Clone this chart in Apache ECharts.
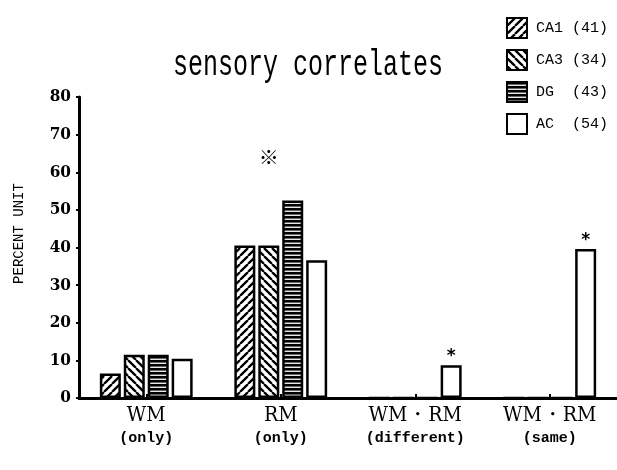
<!DOCTYPE html>
<html>
<head>
<meta charset="utf-8">
<script src="https://cdn.jsdelivr.net/npm/echarts@6/dist/echarts.min.js"></script>
<style>
html,body{margin:0;padding:0;background:#fff;}
#chart{width:617px;height:470px;}
</style>
</head>
<body>
<div id="chart"></div>
<script>
const categories = ['WM\n(only)', 'RM\n(only)', 'WM・RM\n(different)', 'WM・RM\n(same)'];
const seriesNames = ['CA1 (41)', 'CA3 (34)', 'DG  (43)', 'AC  (54)'];
const ca1 = [6.5, 40.5, 0, 0];
const ca3 = [11.5, 40.5, 0, 0];
const dg = [11.5, 52.5, 0, 0];
const ac = [10.4, 36.6, 8.7, 39.6];
const acMarks = ['', '', '*', '*'];
const yTicks = [0, 10, 20, 30, 40, 50, 60, 70, 80];
const titleText = 'sensory correlates';
const yName = 'PERCENT UNIT';
const noteMark = { category: 'RM\n(only)', value: 64, text: '※' };

function hatch(dir) {
  const s = 8;
  const c = document.createElement('canvas');
  c.width = s; c.height = s;
  const g = c.getContext('2d');
  g.fillStyle = '#fff'; g.fillRect(0, 0, s, s);
  g.strokeStyle = '#000'; g.lineWidth = 2.3;
  g.beginPath();
  for (const o of [-s, 0, s]) {
    if (dir === '/') { g.moveTo(o, s); g.lineTo(o + s, 0); }
    else { g.moveTo(o, 0); g.lineTo(o + s, s); }
  }
  g.stroke();
  return { image: c, repeat: 'repeat' };
}
function hlines() {
  const c = document.createElement('canvas');
  c.width = 6; c.height = 4;
  const g = c.getContext('2d');
  g.fillStyle = '#000'; g.fillRect(0, 0, 6, 4);
  g.fillStyle = '#fff'; g.fillRect(0, 2.6, 6, 1.3);
  return { image: c, repeat: 'repeat' };
}

const fills = [hatch('/'), hatch('\\'), hlines(), '#fff'];
const dataSets = [ca1, ca3, dg, ac];

const chart = echarts.init(document.getElementById('chart'));
const series = dataSets.map((d, i) => ({
  name: seriesNames[i],
  type: 'bar',
  barWidth: 21,
  barGap: '14%',
  data: d.map((v, j) => {
    const item = { value: v };
    if (i === 3 && acMarks[j]) {
      item.label = { show: true, position: 'top', distance: 0, formatter: acMarks[j],
        fontFamily: 'DejaVu Sans', fontWeight: 'bold', fontSize: 17, color: '#000' };
    }
    return item;
  }),
  itemStyle: { color: fills[i], borderColor: '#000', borderWidth: 2.5 },
  emphasis: { disabled: true },
  markPoint: i === 1 ? {
    symbol: 'circle', symbolSize: 1, itemStyle: { color: 'rgba(0,0,0,0)' },
    label: { show: true, position: 'inside', formatter: noteMark.text, fontSize: 20, color: '#000', fontFamily: 'Noto Sans CJK JP' },
    data: [{ coord: [noteMark.category, noteMark.value] }]
  } : undefined
}));

chart.setOption({
  animation: false,
  backgroundColor: '#fff',
  graphic: [{
    type: 'text', x: 308, y: 65, scaleY: 1.45, originX: 0, originY: 0,
    style: { text: titleText, font: '25px "Liberation Mono"', fill: '#000', align: 'center', verticalAlign: 'middle' }
  }],
  legend: {
    orient: 'vertical', right: 4, top: 12,
    itemWidth: 20, itemHeight: 20, itemGap: 10,
    textStyle: { fontFamily: 'Liberation Mono', fontSize: 15, color: '#000', padding: [0, 0, 0, 4] },
    data: seriesNames.map((n) => ({ name: n, icon: 'rect' })),
    selectedMode: false
  },
  grid: { left: 79, right: 0, top: 97, bottom: 72, containLabel: false, outerBoundsMode: 'none' },
  xAxis: {
    type: 'category', data: categories,
    axisLine: { lineStyle: { color: '#000', width: 3 } },
    axisTick: { show: true, alignWithLabel: true, inside: true, length: 4, lineStyle: { color: '#000', width: 2 } },
    axisLabel: {
      margin: 5, interval: 0,
      formatter: v => { const p = v.split('\n'); return '{a|' + p[0] + '}\n{b|' + p[1] + '}'; },
      rich: {
        a: { fontFamily: 'DejaVu Serif Condensed', fontSize: 21, color: '#000', lineHeight: 25 },
        b: { fontFamily: 'Liberation Mono', fontSize: 15, fontWeight: 'bold', color: '#000', lineHeight: 20 }
      }
    }
  },
  yAxis: {
    type: 'value', min: 0, max: 80, interval: 10,
    name: yName, nameLocation: 'middle', nameGap: 53, nameRotate: 90,
    nameTextStyle: { fontFamily: 'Liberation Mono', fontSize: 14, color: '#000', padding: [0, 0, 0, 28] },
    axisLine: { show: true, lineStyle: { color: '#000', width: 3 } },
    axisTick: { show: true, length: 3, lineStyle: { color: '#000', width: 2 } },
    splitLine: { show: false },
    axisLabel: {
      margin: 8, color: '#000', fontFamily: 'DejaVu Serif Condensed', fontSize: 17, fontWeight: 'bold',
      formatter: v => yTicks.includes(v) ? String(v) : ''
    }
  },
  series: series
});
</script>
</body>
</html>
